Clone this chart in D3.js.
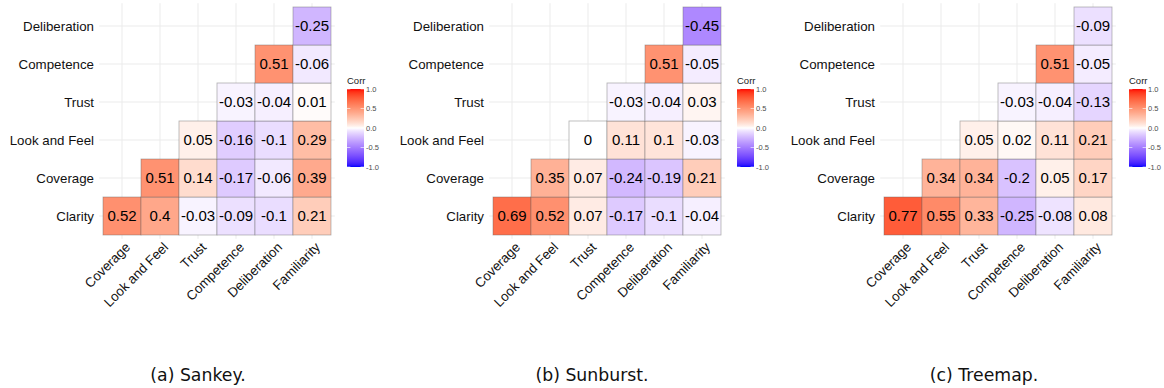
<!DOCTYPE html>
<html>
<head>
<meta charset="utf-8">
<script src="https://cdn.jsdelivr.net/npm/d3@7"></script>
<style>
  html, body { margin: 0; padding: 0; background: #fff; }
  svg { display: block; }
</style>
</head>
<body>
<svg id="chart" width="1164" height="388"></svg>
<script>
// Variables on each axis of the lower-triangle correlation matrix
const rowVars = ["Clarity", "Coverage", "Look and Feel", "Trust", "Competence", "Deliberation"];
const colVars = ["Coverage", "Look and Feel", "Trust", "Competence", "Deliberation", "Familiarity"];

// Correlations per row (row variable vs. every later variable)
const sankeyCorr = [
  [0.52, 0.4, -0.03, -0.09, -0.1, 0.21],
  [0.51, 0.14, -0.17, -0.06, 0.39],
  [0.05, -0.16, -0.1, 0.29],
  [-0.03, -0.04, 0.01],
  [0.51, -0.06],
  [-0.25]
];
const sunburstCorr = [
  [0.69, 0.52, 0.07, -0.17, -0.1, -0.04],
  [0.35, 0.07, -0.24, -0.19, 0.21],
  [0, 0.11, 0.1, -0.03],
  [-0.03, -0.04, 0.03],
  [0.51, -0.05],
  [-0.45]
];
const treemapCorr = [
  [0.77, 0.55, 0.33, -0.25, -0.08, 0.08],
  [0.34, 0.34, -0.2, 0.05, 0.17],
  [0.05, 0.02, 0.11, 0.21],
  [-0.03, -0.04, -0.13],
  [0.51, -0.05],
  [-0.09]
];

const legendTicks = [1.0, 0.5, 0.0, -0.5, -1.0];
const captions = ["(a) Sankey.", "(b) Sunburst.", "(c) Treemap."];

const panels = [
  { values: sankeyCorr,   caption: captions[0], left: 103, legendX: 347,  capX: 198 },
  { values: sunburstCorr, caption: captions[1], left: 493, legendX: 737,  capX: 592 },
  { values: treemapCorr,  caption: captions[2], left: 884, legendX: 1129, capX: 984 }
];

const cell = 38;
const top0 = 7;
const gridSize = cell * 6;
const expand = cell * 0.1;

// Diverging blue-white-red fill, interpolated in Lab space
const toBlue = d3.interpolateLab("white", "blue");
const toRed = d3.interpolateLab("white", "red");
const fill = v => {
  const t = Math.pow(Math.min(1, Math.abs(v)), 0.85);
  return v < 0 ? toBlue(t) : toRed(t);
};

const svg = d3.select("#chart");
const defs = svg.append("defs");
const grad = defs.append("linearGradient")
  .attr("id", "corrGrad")
  .attr("x1", 0).attr("y1", 1).attr("x2", 0).attr("y2", 0);
d3.range(0, 1.0001, 0.025).forEach(t => {
  grad.append("stop").attr("offset", t).attr("stop-color", fill(-1 + 2 * t));
});

const fmt = v => String(v);
const sans = "Liberation Sans, Arial, sans-serif";

panels.forEach(p => {
  const g = svg.append("g");

  const x = d3.scaleBand().domain(colVars).range([p.left, p.left + gridSize]);
  const y = d3.scaleBand().domain(rowVars.slice().reverse()).range([top0, top0 + gridSize]);

  const cells = [];
  p.values.forEach((row, i) => {
    row.forEach((v, k) => {
      cells.push({ r: rowVars[i], c: colVars[i + k], v });
    });
  });

  // grid lines at every category
  g.append("g").selectAll("line").data(colVars).join("line")
    .attr("x1", d => x(d) + x.bandwidth() / 2)
    .attr("x2", d => x(d) + x.bandwidth() / 2)
    .attr("y1", top0 - expand).attr("y2", top0 + gridSize + expand)
    .attr("stroke", "#ebebeb").attr("stroke-width", 1);
  g.append("g").selectAll("line").data(rowVars).join("line")
    .attr("y1", d => y(d) + y.bandwidth() / 2)
    .attr("y2", d => y(d) + y.bandwidth() / 2)
    .attr("x1", p.left - expand).attr("x2", p.left + gridSize + expand)
    .attr("stroke", "#ebebeb").attr("stroke-width", 1);

  // tiles
  g.append("g").selectAll("rect").data(cells).join("rect")
    .attr("x", d => x(d.c)).attr("y", d => y(d.r))
    .attr("width", x.bandwidth()).attr("height", y.bandwidth())
    .attr("fill", d => fill(d.v))
    .attr("stroke", "rgba(100,100,100,0.5)").attr("stroke-width", 0.8);

  // tile labels
  g.append("g").selectAll("text").data(cells).join("text")
    .attr("x", d => x(d.c) + x.bandwidth() / 2)
    .attr("y", d => y(d.r) + y.bandwidth() / 2)
    .attr("text-anchor", "middle").attr("dy", "0.36em")
    .attr("font-family", sans)
    .attr("font-size", 15).attr("fill", "#000")
    .text(d => fmt(d.v));

  // y axis labels
  g.append("g").selectAll("text").data(rowVars).join("text")
    .attr("x", p.left - 9)
    .attr("y", d => y(d) + y.bandwidth() / 2)
    .attr("text-anchor", "end").attr("dy", "0.36em")
    .attr("font-family", sans)
    .attr("font-size", 13.3).attr("fill", "#111")
    .text(d => d);

  // x axis labels, rotated 45 degrees
  g.append("g").selectAll("text").data(colVars).join("text")
    .attr("transform", d => `translate(${x(d) + x.bandwidth() / 2 + 2},${top0 + gridSize + 6}) rotate(-45)`)
    .attr("text-anchor", "end").attr("dy", "0.75em")
    .attr("font-family", sans)
    .attr("font-size", 13.3).attr("fill", "#111")
    .text(d => d);

  // colour bar legend
  const lg = g.append("g");
  const barTop = 89, barH = 78, barW = 17;
  const ly = d3.scaleLinear().domain([-1, 1]).range([barTop + barH, barTop]);
  lg.append("text")
    .attr("x", p.legendX).attr("y", 84)
    .attr("font-family", sans)
    .attr("font-size", 9.5).attr("fill", "#1a1a1a")
    .text("Corr");
  lg.append("rect")
    .attr("x", p.legendX).attr("y", barTop)
    .attr("width", barW).attr("height", barH)
    .attr("fill", "url(#corrGrad)");
  lg.selectAll("line.tl").data(legendTicks).join("line")
    .attr("class", "tl")
    .attr("x1", p.legendX).attr("x2", p.legendX + barW * 0.2)
    .attr("y1", d => ly(d)).attr("y2", d => ly(d))
    .attr("stroke", "#fff").attr("stroke-width", 0.6);
  lg.selectAll("line.tr").data(legendTicks).join("line")
    .attr("class", "tr")
    .attr("x1", p.legendX + barW * 0.8).attr("x2", p.legendX + barW)
    .attr("y1", d => ly(d)).attr("y2", d => ly(d))
    .attr("stroke", "#fff").attr("stroke-width", 0.6);
  lg.selectAll("text.tick").data(legendTicks).join("text")
    .attr("class", "tick")
    .attr("x", p.legendX + barW + 2)
    .attr("y", d => ly(d))
    .attr("dy", "0.36em")
    .attr("font-family", sans)
    .attr("font-size", 7.5).attr("fill", "#4d4d4d")
    .text(d => d3.format(".1f")(d).replace("−", "-"));

  // caption
  g.append("text")
    .attr("x", p.capX).attr("y", 381)
    .attr("text-anchor", "middle")
    .attr("font-family", "DejaVu Sans, sans-serif")
    .attr("font-size", 17.3).attr("fill", "#111")
    .text(p.caption);
});
</script>
</body>
</html>
